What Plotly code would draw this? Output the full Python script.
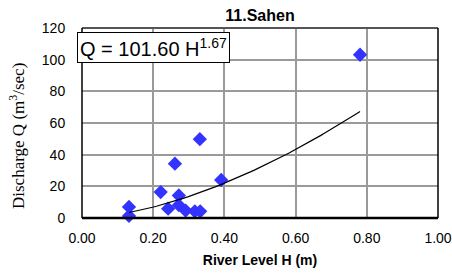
import numpy as np
import plotly.graph_objects as go

# Observed data
river_level = [0.132, 0.132, 0.221, 0.242, 0.261, 0.272, 0.272, 0.291, 0.317, 0.332, 0.331, 0.391, 0.781]
discharge   = [7.0,   1.3,   16.4,  5.9,   34.3,  14.2,  8.1,   4.7,   4.2,   4.2,   49.8,  24.0,  103.1]

# Rating curve Q = a * H^b
coef_a = 101.60
coef_b = 1.67
curve_h = np.linspace(min(river_level), max(river_level), 60)
curve_q = coef_a * curve_h ** coef_b

x_ticks = [0.0, 0.2, 0.4, 0.6, 0.8, 1.0]
y_ticks = [0, 20, 40, 60, 80, 100, 120]

fig = go.Figure()
fig.add_trace(go.Scatter(x=river_level, y=discharge, mode="markers",
                         marker=dict(symbol="diamond", size=11, color="#3333FF"),
                         showlegend=False, cliponaxis=False))
fig.add_trace(go.Scatter(x=curve_h, y=curve_q, mode="lines",
                         line=dict(color="black", width=1.2), showlegend=False))

fig.update_layout(
    width=452, height=275,
    margin=dict(l=82, r=14, t=28, b=57, autoexpand=False),
    paper_bgcolor="white", plot_bgcolor="white",
    font=dict(family="Liberation Sans, Arial, sans-serif", size=14, color="black"),
    title=dict(text="<b>11.Sahen</b>", x=0.5, xref="paper", xanchor="center",
               y=1 - 15.5 / 275, yref="container", yanchor="middle",
               font=dict(size=16, family="Liberation Sans, Arial, sans-serif")),
    showlegend=False,
)

fig.update_xaxes(range=[0, 1.0], tickvals=x_ticks,
                 ticktext=[f"{v:.2f}" for v in x_ticks],
                 showgrid=True, gridcolor="#9a9a9a", gridwidth=1.5,
                 zeroline=False, showline=False, automargin=False,
                 ticks="outside", ticklen=7, tickcolor="rgba(0,0,0,0)",
                 tickfont=dict(size=14),
                 title=dict(text="<b>River Level H (m)</b>", standoff=10,
                            font=dict(size=14)))
fig.update_yaxes(range=[0, 120], tickvals=y_ticks,
                 showgrid=True, gridcolor="#9a9a9a", gridwidth=1.5,
                 zeroline=False, showline=False, automargin=False,
                 ticks="outside", ticklen=13, tickcolor="rgba(0,0,0,0)",
                 tickfont=dict(size=14))

# Plot borders
fig.add_shape(type="line", xref="paper", yref="paper", x0=0, x1=1, y0=1, y1=1,
              line=dict(color="#555555", width=2))
fig.add_shape(type="line", xref="paper", yref="paper", x0=1, x1=1, y0=0, y1=1,
              line=dict(color="black", width=1.5))
fig.add_shape(type="line", xref="paper", yref="paper", x0=0, x1=0, y0=0, y1=1,
              line=dict(color="black", width=1.5))
fig.add_shape(type="line", xref="paper", yref="paper", x0=0, x1=1, y0=0, y1=0,
              line=dict(color="black", width=2.5))

# Y axis title (serif)
fig.add_annotation(text="Discharge Q (m<sup>3</sup>/sec)", textangle=-90,
                   xref="paper", yref="paper", x=0, y=0.5, xshift=-65, yshift=-13,
                   showarrow=False, xanchor="center", yanchor="middle",
                   font=dict(family="Liberation Serif, Times New Roman, serif", size=17))

# Equation box
fig.add_annotation(text="Q = 101.60 H<sup>1.67</sup>",
                   xref="paper", yref="paper", x=0, y=1, xshift=-5, yshift=-4,
                   xanchor="left", yanchor="top", showarrow=False,
                   bgcolor="white", bordercolor="black", borderwidth=1, borderpad=2,
                   font=dict(size=20, family="Liberation Sans, Arial, sans-serif"))

fig.write_html("out.html", config={"displayModeBar": False},
               post_script="document.body.style.margin='0px';")
